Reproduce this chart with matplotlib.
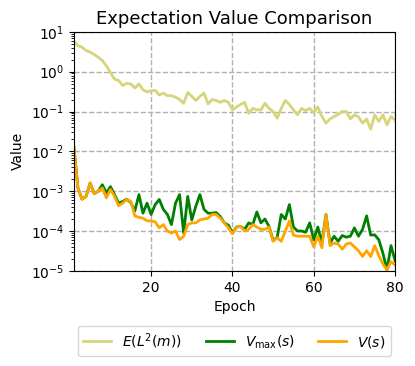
import numpy as np
import matplotlib
matplotlib.use("Agg")
import matplotlib.pyplot as plt

# values, epochs 1..80
epochs = np.arange(1, 81)

e_l2 = [5.8, 4.5, 4.1, 3.4, 3.1, 2.7, 2.3, 1.9, 1.4, 0.95,
        0.65, 0.6, 0.45, 0.51, 0.49, 0.39, 0.49, 0.35, 0.31, 0.33,
        0.34, 0.26, 0.29, 0.25, 0.25, 0.23, 0.2, 0.16, 0.30, 0.24,
        0.19, 0.24, 0.29, 0.155, 0.2, 0.19, 0.17, 0.19, 0.17, 0.11,
        0.13, 0.15, 0.17, 0.09, 0.12, 0.11, 0.11, 0.16, 0.12, 0.1,
        0.068, 0.12, 0.19, 0.15, 0.11, 0.083, 0.12, 0.105, 0.12, 0.093,
        0.13, 0.075, 0.051, 0.065, 0.075, 0.085, 0.1, 0.1, 0.065, 0.083,
        0.073, 0.051, 0.065, 0.036, 0.083, 0.056, 0.083, 0.046, 0.075, 0.06]

v_max = [0.013, 0.0012, 0.00063, 0.00074, 0.0016, 0.00087, 0.001, 0.00145, 0.0009, 0.0013,
         0.00082, 0.0005, 0.00055, 0.00063, 0.00052, 0.00032, 0.00082, 0.00028, 0.0005, 0.00026,
         0.00046, 0.00062, 0.00035, 0.00026, 0.000145, 0.0005, 0.00082, 0.000089, 0.00074, 0.00019,
         0.00042, 0.00082, 0.00035, 0.00028, 0.00028, 0.00029, 0.00023, 0.00016, 0.00014, 0.000089,
         0.000126, 0.00013, 0.00011, 0.00016, 0.000145, 0.0003, 0.00016, 0.0002, 0.00013, 0.000059,
         0.000068, 0.00026, 0.0002, 0.00046, 0.000126, 0.0001, 0.0001, 0.000093, 0.00016, 0.00006,
         0.000126, 0.00005, 0.00026, 0.00005, 0.000074, 0.000055, 0.000077, 0.00007, 0.000074, 0.00012,
         0.000074, 0.00011, 0.00024, 0.000079, 0.00008, 0.00006, 0.000028, 0.0000105, 0.000043, 0.000018]

v_s = [0.013, 0.0012, 0.00063, 0.00074, 0.0016, 0.00087, 0.001, 0.0012, 0.00068, 0.0011,
       0.00074, 0.00043, 0.0005, 0.00062, 0.00056, 0.00024, 0.00022, 0.00021, 0.00018, 0.00018,
       0.00017, 0.00012, 0.000145, 0.0001, 0.000089, 0.0001, 0.000061, 0.000074, 0.000145, 0.00016,
       0.00016, 0.00019, 0.0002, 0.00021, 0.00026, 0.00026, 0.00021, 0.00016, 0.00012, 0.000085,
       0.000126, 0.00013, 0.0001, 0.00011, 0.000145, 0.000126, 0.00011, 0.00011, 0.000126, 0.000055,
       0.000068, 0.000055, 0.0001, 0.00018, 0.000079, 0.000074, 0.000074, 0.000074, 0.000074, 0.00004,
       0.000074, 0.000038, 0.00026, 0.000043, 0.00005, 0.000047, 0.000035, 0.000047, 0.00005, 0.00004,
       0.000032, 0.000023, 0.000032, 0.000023, 0.000043, 0.000024, 0.000015, 0.0000105, 0.000017, 0.000014]

fig = plt.figure(figsize=(4.15, 3.66), dpi=100)
ax = fig.add_axes([0.178, 0.26, 0.774, 0.653])

ax.plot(epochs, e_l2, color='#d6d57a', lw=2, label=r'$E(L^2(m))$')
ax.plot(epochs, v_max, color='green', lw=2, label=r'$V_{\max}(s)$')
ax.plot(epochs, v_s, color='orange', lw=2, label=r'$V(s)$')

ax.set_yscale('log')
ax.set_xlim(1, 80)
ax.set_ylim(1e-5, 1e1)
ax.set_xticks([20, 40, 60, 80])
ax.grid(True, which='major', linestyle='--', color='#b0b0b0', lw=1)
ax.set_title('Expectation Value Comparison', fontsize=13)
ax.set_xlabel('Epoch')
ax.set_ylabel('Value')
ax.legend(loc='upper center', bbox_to_anchor=(0.5, -0.2), ncol=3, columnspacing=1.7)

plt.savefig('out.png', dpi=100)
